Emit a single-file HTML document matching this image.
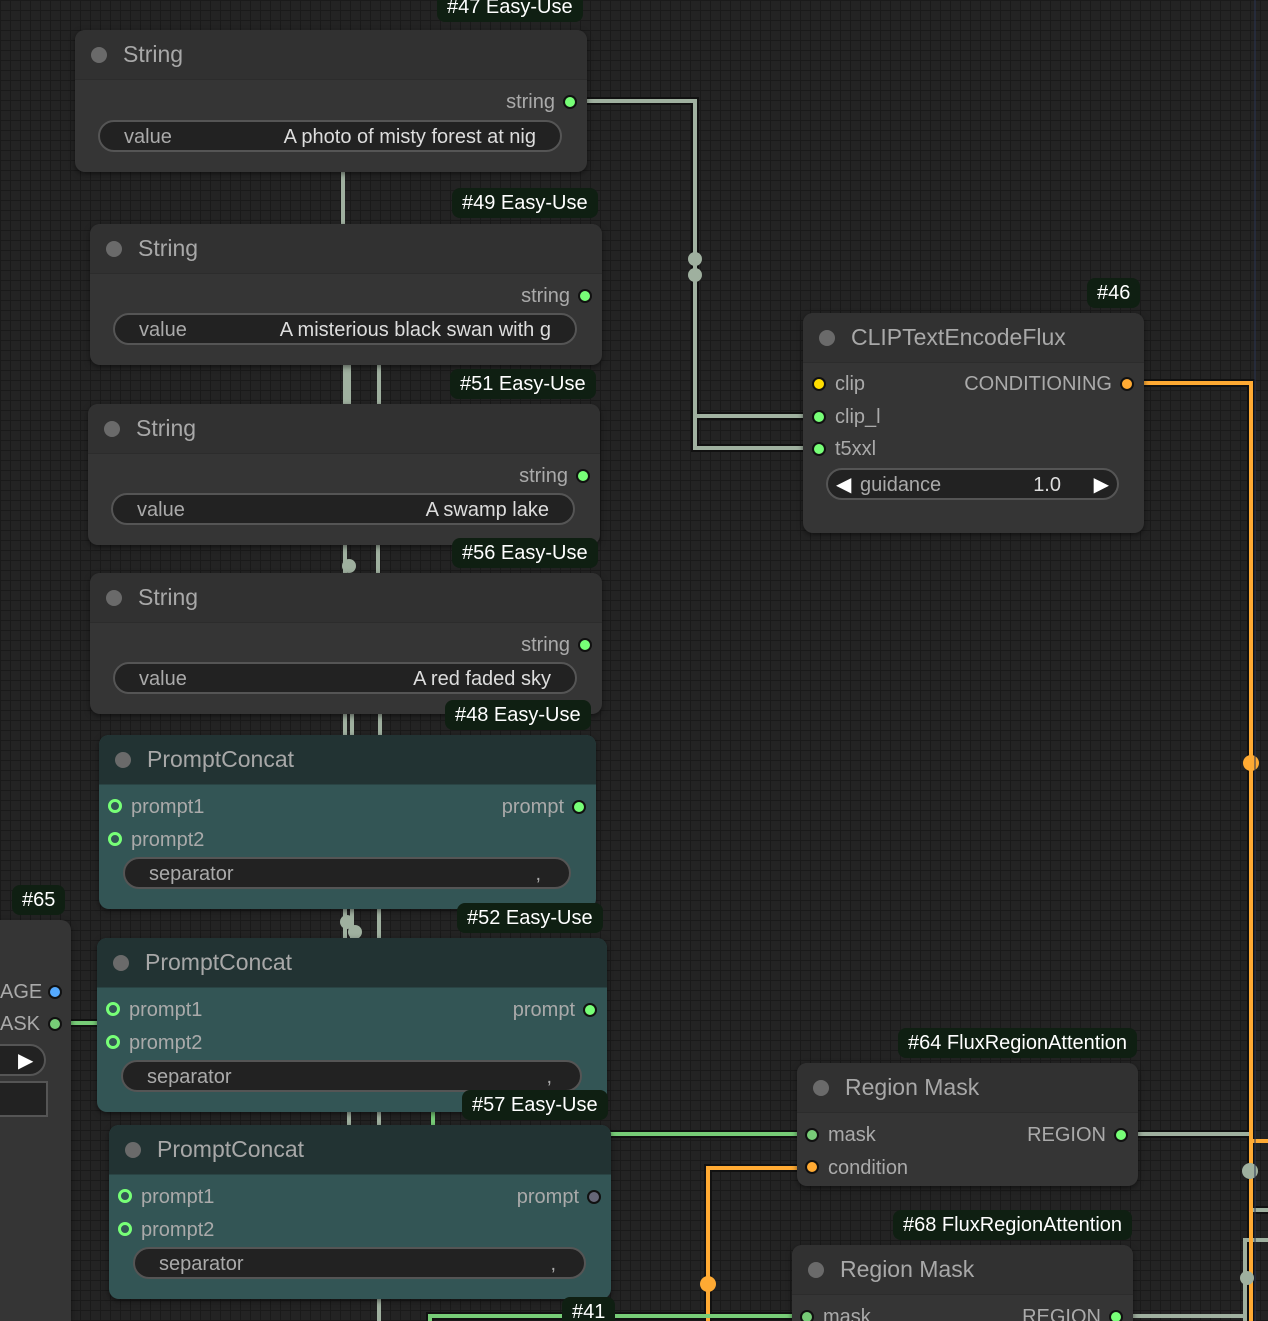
<!DOCTYPE html><html style="width:1268px;height:1321px;overflow:hidden"><head><meta charset="utf-8"><style>
body{margin:0;width:1268px;height:1321px;overflow:hidden;background:#222;font-family:"Liberation Sans",sans-serif;position:relative;
background-image:linear-gradient(#1a1a1a 1px,transparent 1px),linear-gradient(90deg,#1a1a1a 1px,transparent 1px);background-size:10px 10px;background-color:#232323}
.n{position:absolute;background:#353535;border-radius:10px;box-shadow:0 2px 6px rgba(0,0,0,.5)}
.t{height:49px;border-bottom:1px solid #2c2c2c;background:#313131;border-radius:10px 10px 0 0;position:relative;color:#a8a8a8;font-size:23px;line-height:49px;padding-left:48px}
.t:before{content:"";position:absolute;left:16px;top:17px;width:16px;height:16px;border-radius:50%;background:#6a6a6a}
.teal{background:#335555}.teal .t{background:#223333;border-bottom-color:#2a4444}
.b{position:absolute;background:#0f1f12;color:#fff;font-size:20px;border-radius:8px;padding:0 10px;height:30px;line-height:30px}
.l{position:absolute;color:#aaa;font-size:20px}
.d{position:absolute;width:10px;height:10px;border-radius:50%;border:2px solid #111}
.w{position:absolute;background:#222;border:2px solid #555;border-radius:17px;height:32px;color:#aaa;font-size:20px;line-height:30px;box-sizing:border-box}
.w span{position:absolute}
.ring{position:absolute;width:8px;height:8px;border-radius:50%;border:3px solid #7f7;}
</style></head><body>
<svg width="1268" height="1321" style="position:absolute;left:0;top:0">
<g fill="none" stroke-linejoin="miter">
<g stroke="#111" stroke-width="8">
<path d="M580 101H695V448H812"/><path d="M695 416H812"/>
<path d="M1135 383H1251V1321"/>
<path d="M1135 1134H1251V1210H1268"/>
<path d="M797 1168H708V1321"/>
<path d="M60 1023H100"/><path d="M610 1134H800"/><path d="M430 1321V1316H800"/>
</g>
<g stroke="#9fb09f" stroke-width="4">
<path d="M580 101H695V448H812"/><path d="M695 416H812"/>
<path d="M1135 1134H1251V1210H1268"/><path d="M1268 1240H1245V1321"/>
<path d="M343 172V224"/><path d="M345 365V404M349 365V404M379 365V404"/>
<path d="M345 545V573M378 545V573"/><path d="M345 714V735M352 714V735M380 714V735"/>
<path d="M345 909V938M352 909V938M379 909V938"/><path d="M349 1112V1125M379 1112V1125"/>
<path d="M379 1299V1321"/><path d="M1125 1316H1245"/>
</g>
<path d="M1135 383H1251V1321" stroke="#fa3" stroke-width="4"/>
<path d="M1251 1141H1268" stroke="#fa3" stroke-width="4"/>
<path d="M797 1168H708V1321" stroke="#fa3" stroke-width="4"/>
<g stroke="#7c7" stroke-width="4"><path d="M60 1023H100"/><path d="M610 1134H800"/><path d="M430 1321V1316H800"/><path d="M433 1112V1125"/></g>
</g>
<circle cx="695" cy="259" r="7" fill="#9fb09f"/><circle cx="695" cy="275" r="7" fill="#9fb09f"/>
<circle cx="1251" cy="763" r="8" fill="#fa3"/><circle cx="708" cy="1284" r="8" fill="#fa3"/>
<circle cx="1250" cy="1171" r="8" fill="#9fb09f"/><circle cx="1247" cy="1278" r="7" fill="#9fb09f"/>
<circle cx="349" cy="566" r="7" fill="#9fb09f"/><circle cx="347" cy="922" r="7" fill="#9fb09f"/><circle cx="355" cy="932" r="7" fill="#9fb09f"/>
<line x1="1255" y1="0" x2="1255" y2="1321" stroke="#2a3350" stroke-width="1"/>
</svg>

<div class="n" style="left:-20px;top:920px;width:91px;height:401px;border-radius:10px 10px 0 0"></div>
<div class="b" style="left:12px;top:885px">#65</div>
<div class="l" style="left:0;top:981px">AGE</div><div class="d" style="left:48px;top:985px;background:#5af"></div>
<div class="l" style="left:0;top:1013px">ASK</div><div class="d" style="left:48px;top:1017px;background:#7c7"></div>
<div class="w" style="left:-20px;top:1044px;width:66px;color:#fff;font-size:20px"><span style="left:36px">▶</span></div>
<div style="position:absolute;left:-2px;top:1081px;width:46px;height:32px;border:2px solid #555;background:#222"></div>

<div class="n" style="left:75px;top:30px;width:512px;height:142px"><div class="t">String</div>
<div class="l" style="right:32px;top:61px">string</div><div class="d" style="right:10px;top:65px;background:#7f7"></div>
<div class="w" style="left:23px;top:90px;width:464px"><span style="left:24px">value</span><span style="right:24px;color:#ddd">A photo of misty forest at nig</span></div></div>
<div class="b" style="left:437px;top:-8px">#47 Easy-Use</div>

<div class="n" style="left:90px;top:224px;width:512px;height:141px"><div class="t">String</div>
<div class="l" style="right:32px;top:61px">string</div><div class="d" style="right:10px;top:65px;background:#7f7"></div>
<div class="w" style="left:23px;top:89px;width:464px"><span style="left:24px">value</span><span style="right:24px;color:#ddd">A misterious black swan with g</span></div></div>
<div class="b" style="left:452px;top:188px">#49 Easy-Use</div>

<div class="n" style="left:88px;top:404px;width:512px;height:141px"><div class="t">String</div>
<div class="l" style="right:32px;top:61px">string</div><div class="d" style="right:10px;top:65px;background:#7f7"></div>
<div class="w" style="left:23px;top:89px;width:464px"><span style="left:24px">value</span><span style="right:24px;color:#ddd">A swamp lake</span></div></div>
<div class="b" style="left:450px;top:369px">#51 Easy-Use</div>

<div class="b" style="left:452px;top:538px">#56 Easy-Use</div>
<div class="n" style="left:90px;top:573px;width:512px;height:141px"><div class="t">String</div>
<div class="l" style="right:32px;top:61px">string</div><div class="d" style="right:10px;top:65px;background:#7f7"></div>
<div class="w" style="left:23px;top:89px;width:464px"><span style="left:24px">value</span><span style="right:24px;color:#ddd">A red faded sky</span></div></div>

<div class="n teal" style="left:99px;top:735px;width:497px;height:174px"><div class="t">PromptConcat</div>
<div class="ring" style="left:9px;top:64px"></div><div class="l" style="left:32px;top:61px">prompt1</div>
<div class="ring" style="left:9px;top:97px"></div><div class="l" style="left:32px;top:94px">prompt2</div>
<div class="l" style="right:32px;top:61px">prompt</div><div class="d" style="right:10px;top:65px;background:#7f7"></div>
<div class="w" style="left:24px;top:122px;width:448px"><span style="left:24px">separator</span><span style="right:28px">,</span></div></div>
<div class="b" style="left:445px;top:700px">#48 Easy-Use</div>

<div class="n teal" style="left:97px;top:938px;width:510px;height:174px"><div class="t">PromptConcat</div>
<div class="ring" style="left:9px;top:64px"></div><div class="l" style="left:32px;top:61px">prompt1</div>
<div class="ring" style="left:9px;top:97px"></div><div class="l" style="left:32px;top:94px">prompt2</div>
<div class="l" style="right:32px;top:61px">prompt</div><div class="d" style="right:10px;top:65px;background:#7f7"></div>
<div class="w" style="left:24px;top:122px;width:461px"><span style="left:24px">separator</span><span style="right:28px">,</span></div></div>
<div class="b" style="left:457px;top:903px">#52 Easy-Use</div>

<div class="n teal" style="left:109px;top:1125px;width:502px;height:174px"><div class="t">PromptConcat</div>
<div class="ring" style="left:9px;top:64px"></div><div class="l" style="left:32px;top:61px">prompt1</div>
<div class="ring" style="left:9px;top:97px"></div><div class="l" style="left:32px;top:94px">prompt2</div>
<div class="l" style="right:32px;top:61px">prompt</div><div class="d" style="right:10px;top:65px;background:#667"></div>
<div class="w" style="left:24px;top:122px;width:453px"><span style="left:24px">separator</span><span style="right:28px">,</span></div></div>
<div class="b" style="left:462px;top:1090px">#57 Easy-Use</div>
<div class="b" style="left:562px;top:1297px">#41</div>

<div class="n" style="left:803px;top:313px;width:341px;height:220px"><div class="t">CLIPTextEncodeFlux</div>
<div class="d" style="left:9px;top:64px;background:#fd0"></div><div class="l" style="left:32px;top:60px">clip</div>
<div class="d" style="left:9px;top:97px;background:#7f7"></div><div class="l" style="left:32px;top:93px">clip_l</div>
<div class="d" style="left:9px;top:129px;background:#7f7"></div><div class="l" style="left:32px;top:125px">t5xxl</div>
<div class="l" style="right:32px;top:60px">CONDITIONING</div><div class="d" style="right:10px;top:64px;background:#fa3"></div>
<div class="w" style="left:23px;top:155px;width:293px"><span style="left:8px;color:#fff">◀</span><span style="left:32px">guidance</span><span style="right:56px;color:#ddd">1.0</span><span style="right:8px;color:#fff">▶</span></div></div>
<div class="b" style="left:1087px;top:278px">#46</div>

<div class="n" style="left:797px;top:1063px;width:341px;height:123px"><div class="t">Region Mask</div>
<div class="d" style="left:8px;top:65px;background:#7c7"></div><div class="l" style="left:31px;top:61px">mask</div>
<div class="d" style="left:8px;top:97px;background:#fa3"></div><div class="l" style="left:31px;top:94px">condition</div>
<div class="l" style="right:32px;top:61px">REGION</div><div class="d" style="right:10px;top:65px;background:#7f7"></div></div>
<div class="b" style="left:898px;top:1028px">#64 FluxRegionAttention</div>

<div class="n" style="left:792px;top:1245px;width:341px;height:76px;border-radius:10px 10px 0 0"><div class="t">Region Mask</div>
<div class="d" style="left:8px;top:65px;background:#7c7"></div><div class="l" style="left:31px;top:61px">mask</div>
<div class="l" style="right:32px;top:61px">REGION</div><div class="d" style="right:10px;top:65px;background:#7f7"></div></div>
<div class="b" style="left:893px;top:1210px">#68 FluxRegionAttention</div>
</body></html>
